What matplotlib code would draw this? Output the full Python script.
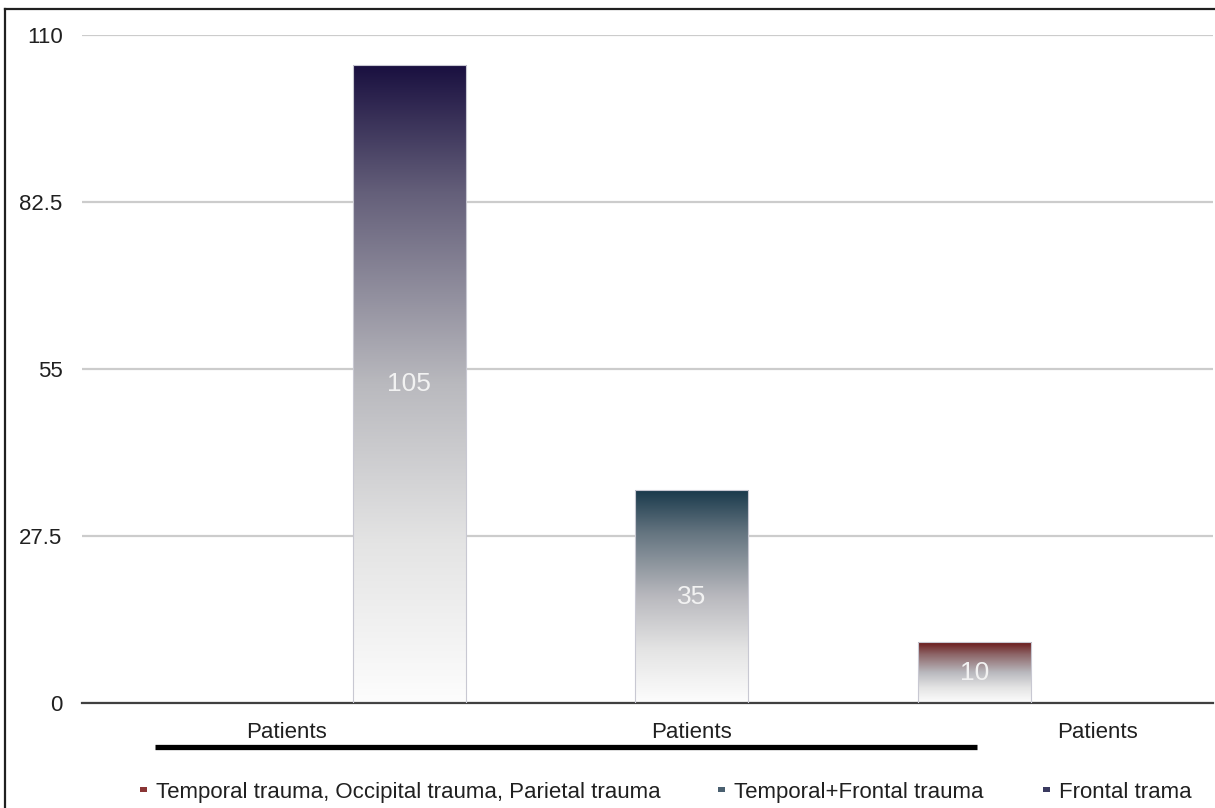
import numpy as np
import matplotlib
matplotlib.use("Agg")
import matplotlib.pyplot as plt
from matplotlib.colors import LinearSegmentedColormap, to_rgb
from matplotlib.patches import Rectangle
from matplotlib.lines import Line2D
import matplotlib.transforms as mtransforms

plt.rcParams['font.family'] = ['Liberation Sans', 'DejaVu Sans']

# data
series = ["Frontal trama", "Temporal+Frontal trauma",
          "Temporal trauma, Occipital trauma, Parietal trauma"]
values = [105, 35, 10]
top_colors = ["#1a1040", "#1a3a4c", "#6a1a1a"]
legend_colors = ["#3a3a60", "#4a6070", "#8a3535"]
category_label = "Patients"
yticks = [0, 27.5, 55, 82.5, 110]
ytick_labels = ["0", "27.5", "55", "82.5", "110"]


def bar_cmap(top):
    top = np.array(to_rgb(top))
    mid = np.array([175, 175, 180]) / 255
    stops = [(0.0, top),
             (0.2, 0.5 * top + 0.5 * mid),
             (0.5, np.array([185, 185, 190]) / 255),
             (0.75, np.array([228, 228, 228]) / 255),
             (1.0, np.array([253, 253, 253]) / 255)]
    return LinearSegmentedColormap.from_list("g", stops)


fig = plt.figure(figsize=(12.15, 8.08), dpi=100)
ax = fig.add_axes([82 / 1215, 1 - 703 / 808, 1131 / 1215, 668 / 808])

x = np.arange(len(values))
width = 0.4
bars = ax.bar(x, values, width=width, color="none",
              edgecolor="#c8c8d2", linewidth=0.8, zorder=3)

grad = np.linspace(0, 1, 256).reshape(-1, 1)
for b, c in zip(bars, top_colors):
    x0, y0 = b.get_x(), b.get_y()
    w, h = b.get_width(), b.get_height()
    im = ax.imshow(grad, cmap=bar_cmap(c), aspect="auto",
                   extent=[x0, x0 + w, y0, y0 + h], origin="upper",
                   zorder=2)
    im.set_clip_path(b)

for xi, v in zip(x, values):
    ax.text(xi, v / 2, str(v), ha="center", va="center",
            fontsize=19, color="#f2f2f2", zorder=4)

ax.set_xlim(-1.157, 2.843)
ax.set_ylim(0, 110)
ax.set_yticks(yticks)
ax.set_yticklabels(ytick_labels)
ax.yaxis.grid(True, color="#cccccc", linewidth=1.6, zorder=0)
ax.set_axisbelow(True)
for s in ["left", "right", "top"]:
    ax.spines[s].set_visible(False)
ax.spines["bottom"].set_color("#404040")
ax.spines["bottom"].set_linewidth(1.6)
ax.tick_params(axis="y", length=0, pad=14, labelsize=16, labelcolor="#202020")
ax.tick_params(axis="x", length=0, pad=14, labelsize=16, labelcolor="#202020")

# multi-level category labels
label_pos = [-0.433, 0.998, 2.433]
ax.set_xticks(label_pos)
ax.set_xticklabels([category_label] * len(label_pos))

trans = mtransforms.blended_transform_factory(ax.transData, ax.transAxes)
ax.plot([-0.90, 2.01], [-0.066, -0.066], color="black", linewidth=3.8,
        transform=trans, clip_on=False, solid_capstyle="butt")

# legend, drawn in reverse series order
leg_x = [143, 721.5, 1046.5]
mark_y = 1 - 789 / 808
text_y = 1 - 798 / 808
for px, name, col in zip(leg_x, series[::-1], legend_colors[::-1]):
    fig.patches.append(Rectangle(((px - 3.5) / 1215, mark_y - 2.5 / 808),
                                 7 / 1215, 5 / 808, transform=fig.transFigure,
                                 facecolor=col, edgecolor="none"))
    fig.text((px + 12.5) / 1215, text_y, name, fontsize=16, color="#202020",
             ha="left", va="baseline")

# chart frame
fig.lines.append(Line2D([5 / 1215, 5 / 1215], [-0.1, 1 - 9 / 808],
                        transform=fig.transFigure, color="#202020", linewidth=1.6))
fig.lines.append(Line2D([5 / 1215, 1.1], [1 - 9 / 808, 1 - 9 / 808],
                        transform=fig.transFigure, color="#202020", linewidth=1.6))

fig.savefig("out.png", dpi=100)
